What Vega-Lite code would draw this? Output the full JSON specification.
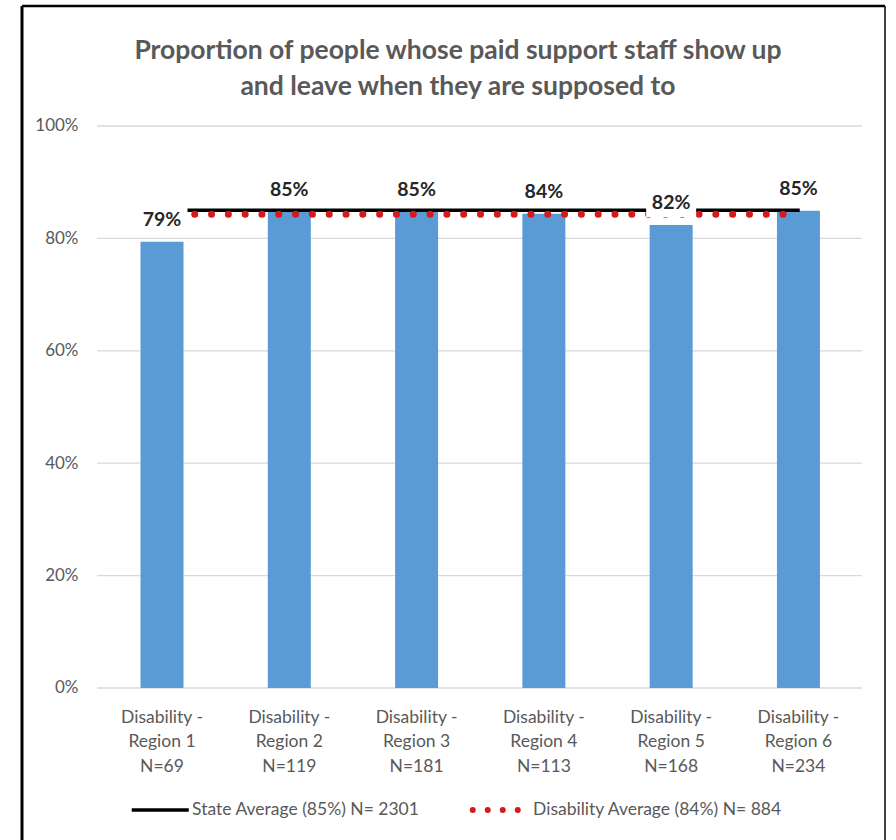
{
  "$schema": "https://vega.github.io/schema/vega-lite/v6.json",
  "width": 873,
  "height": 834,
  "autosize": {"type": "none"},
  "padding": {"left": 17, "top": 6, "right": 6, "bottom": 0},
  "background": "white",
  "config": {"view": {"stroke": null}, "font": "Lato"},
  "datasets": {
    "regions": [
      {"idx": 1, "label": "Disability -\nRegion 1\nN=69", "value": 0.794},
      {"idx": 2, "label": "Disability -\nRegion 2\nN=119", "value": 0.847},
      {"idx": 3, "label": "Disability -\nRegion 3\nN=181", "value": 0.847},
      {"idx": 4, "label": "Disability -\nRegion 4\nN=113", "value": 0.844},
      {"idx": 5, "label": "Disability -\nRegion 5\nN=168", "value": 0.824},
      {"idx": 6, "label": "Disability -\nRegion 6\nN=234", "value": 0.849}
    ],
    "grid": [{"v": 0}, {"v": 0.2}, {"v": 0.4}, {"v": 0.6}, {"v": 0.8}, {"v": 1}],
    "averages": [
      {"key": "state", "name": "State Average (85%) N= 2301", "value": 0.85},
      {"key": "disability", "name": "Disability Average (84%) N= 884", "value": 0.843}
    ],
    "frame": [{"title": "Proportion of people whose paid support staff show up\nand leave when they are supposed to"}]
  },
  "layer": [
    {
      "data": {"name": "grid"},
      "mark": {"type": "rule", "color": "#d9d9d9", "strokeWidth": 1.3},
      "encoding": {
        "x": {"datum": 0.49, "type": "quantitative", "scale": {"domain": [-0.1, 6.68], "nice": false, "zero": false}, "axis": null},
        "x2": {"datum": 6.5},
        "y": {
          "field": "v", "type": "quantitative",
          "scale": {"domain": [-0.2705, 1.2135], "nice": false, "zero": false},
          "axis": {
            "values": [0, 0.2, 0.4, 0.6, 0.8, 1],
            "format": ".0%",
            "grid": false, "domain": false, "ticks": false,
            "offset": -61, "labelPadding": 0,
            "labelFont": "Lato", "labelFontSize": 17, "labelColor": "#595959",
            "title": null
          }
        }
      }
    },
    {
      "data": {"name": "regions"},
      "mark": {"type": "bar", "width": 43, "color": "#5B9BD5"},
      "encoding": {
        "x": {"field": "idx", "type": "quantitative"},
        "y": {"field": "value", "type": "quantitative"},
        "y2": {"datum": 0}
      }
    },
    {
      "data": {"name": "averages"},
      "transform": [{"filter": "datum.key === 'state'"}],
      "mark": {"type": "rule", "color": "black", "strokeWidth": 3.5},
      "encoding": {
        "x": {"datum": 1.2, "type": "quantitative"},
        "x2": {"datum": 6.01},
        "y": {"field": "value", "type": "quantitative"}
      }
    },
    {
      "data": {"name": "averages"},
      "transform": [{"filter": "datum.key === 'disability'"}],
      "mark": {"type": "rule", "color": "#D7191C", "strokeWidth": 7, "strokeCap": "round", "strokeDash": [0.01, 16.8]},
      "encoding": {
        "x": {"datum": 1.257, "type": "quantitative"},
        "x2": {"datum": 5.96},
        "y": {"field": "value", "type": "quantitative"}
      }
    },
    {
      "data": {"name": "regions"},
      "mark": {"type": "point", "shape": "M-0.625,-0.875L0.625,-0.875L0.625,-0.2L-0.625,-0.2Z", "filled": true, "color": "white", "opacity": 1, "size": 6400, "strokeWidth": 0},
      "encoding": {
        "x": {"field": "idx", "type": "quantitative"},
        "y": {"field": "value", "type": "quantitative"}
      }
    },
    {
      "data": {"name": "regions"},
      "mark": {"type": "text", "font": "Lato", "fontSize": 19.5, "fontWeight": "bold", "color": "#262626", "baseline": "middle", "align": "center", "dy": -22},
      "encoding": {
        "x": {"field": "idx", "type": "quantitative"},
        "y": {"field": "value", "type": "quantitative"},
        "text": {"field": "value", "type": "quantitative", "format": ".0%"}
      }
    },
    {
      "data": {"name": "regions"},
      "mark": {"type": "text", "font": "Lato", "fontSize": 17.5, "color": "#595959", "baseline": "top", "align": "center", "lineBreak": "\n", "lineHeight": 24.5},
      "encoding": {
        "x": {"field": "idx", "type": "quantitative"},
        "y": {"datum": -0.0374, "type": "quantitative"},
        "text": {"field": "label", "type": "nominal"}
      }
    },
    {
      "data": {"name": "averages"},
      "transform": [{"filter": "datum.key === 'state'"}],
      "mark": {"type": "rule", "color": "black", "strokeWidth": 3.5},
      "encoding": {
        "x": {"datum": 0.762, "type": "quantitative"},
        "x2": {"datum": 1.21},
        "y": {"datum": -0.2171, "type": "quantitative"}
      }
    },
    {
      "data": {"name": "averages"},
      "transform": [{"filter": "datum.key === 'disability'"}],
      "mark": {"type": "rule", "color": "#D7191C", "strokeWidth": 6, "strokeCap": "round", "strokeDash": [0.01, 15]},
      "encoding": {
        "x": {"datum": 3.441, "type": "quantitative"},
        "x2": {"datum": 3.806},
        "y": {"datum": -0.2171, "type": "quantitative"}
      }
    },
    {
      "data": {"name": "averages"},
      "transform": [{"filter": "datum.key === 'state'"}],
      "mark": {"type": "text", "font": "Lato", "fontSize": 17.5, "color": "#595959", "baseline": "middle", "align": "left"},
      "encoding": {
        "x": {"datum": 1.236, "type": "quantitative"},
        "y": {"datum": -0.2171, "type": "quantitative"},
        "text": {"field": "name", "type": "nominal"}
      }
    },
    {
      "data": {"name": "averages"},
      "transform": [{"filter": "datum.key === 'disability'"}],
      "mark": {"type": "text", "font": "Lato", "fontSize": 17.5, "color": "#595959", "baseline": "middle", "align": "left"},
      "encoding": {
        "x": {"datum": 3.915, "type": "quantitative"},
        "y": {"datum": -0.2171, "type": "quantitative"},
        "text": {"field": "name", "type": "nominal"}
      }
    },
    {
      "data": {"name": "frame"},
      "mark": {"type": "text", "font": "Lato", "fontSize": 26.5, "fontWeight": "bold", "color": "#595959", "baseline": "top", "align": "center", "lineBreak": "\n", "lineHeight": 36},
      "encoding": {
        "x": {"datum": 3.325, "type": "quantitative"},
        "y": {"datum": 1.1571, "type": "quantitative"},
        "text": {"field": "title", "type": "nominal"}
      }
    },
    {
      "data": {"name": "frame"},
      "mark": {"type": "rule", "color": "black", "strokeWidth": 3},
      "encoding": {
        "x": {"datum": -0.1, "type": "quantitative"},
        "y": {"datum": -0.2705, "type": "quantitative"},
        "y2": {"datum": 1.2135}
      }
    },
    {
      "data": {"name": "frame"},
      "mark": {"type": "rule", "color": "black", "strokeWidth": 2.5},
      "encoding": {
        "x": {"datum": -0.1, "type": "quantitative"},
        "x2": {"datum": 6.68},
        "y": {"datum": 1.2135, "type": "quantitative"}
      }
    },
    {
      "data": {"name": "frame"},
      "mark": {"type": "rule", "color": "black", "strokeWidth": 1.5},
      "encoding": {
        "x": {"datum": 6.68, "type": "quantitative"},
        "y": {"datum": -0.2705, "type": "quantitative"},
        "y2": {"datum": 1.2135}
      }
    }
  ]
}
